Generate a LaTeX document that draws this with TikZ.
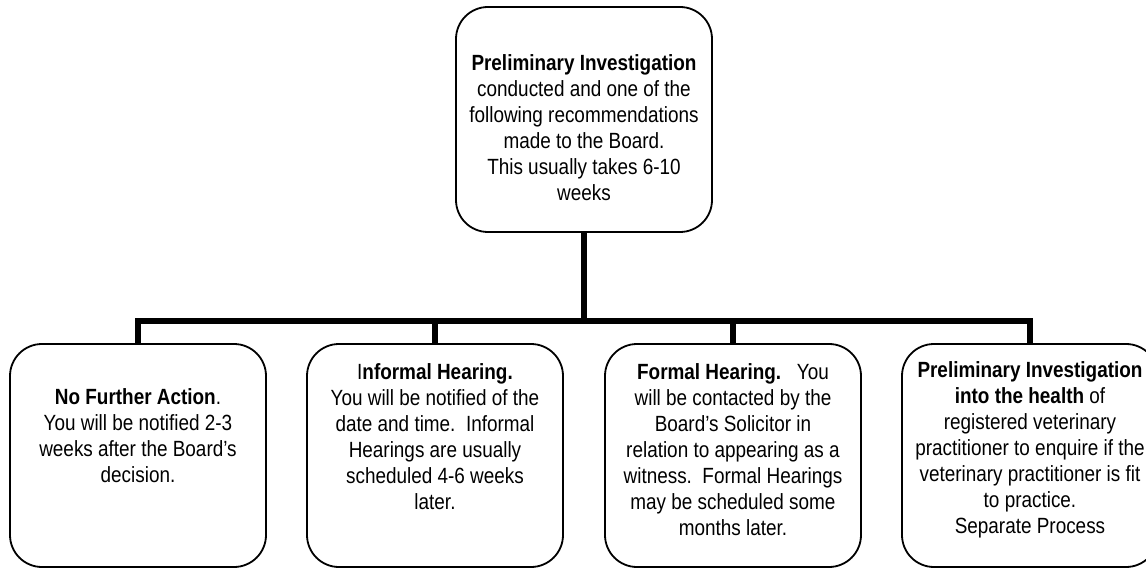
\documentclass[tikz,border=0pt]{standalone}
\usepackage{fontspec}
\setmainfont{Liberation Sans}[FakeStretch=0.86]
\newcommand{\cellcontent}[3]{\parbox[c][#1][t]{256pt}{\vspace*{#2}\centering #3\par}}
\begin{document}
\begin{tikzpicture}[x=1pt,y=-1pt,
  card/.style={draw=black, line width=1.8pt, rounded corners=32pt, inner sep=0pt, fill=white,
    font=\fontsize{22}{26}\selectfont},
  conn/.style={line width=6pt, line cap=butt, line join=miter}]
\useasboundingbox (0,0) rectangle (1146,569);
\clip (0,0) rectangle (1146,569);
\node[card] (top) at (584,119.5) {\cellcontent{225pt}{48pt}{\textbf{Preliminary Investigation}\\ conducted and one of the\\ following recommendations\\ made to the Board.\\ This usually takes 6-10\\ weeks}};
\node[card] (b1) at (138,455.5) {\cellcontent{223pt}{45pt}{\textbf{No Further Action}.\\ You will be notified 2-3\\ weeks after the Board’s\\ decision.}};
\node[card] (b2) at (435,455.5) {\cellcontent{223pt}{20pt}{I\textbf{nformal Hearing.}\\ You will be notified of the\\ date and time.\ \ Informal\\ Hearings are usually\\ scheduled 4-6 weeks\\ later.}};
\node[card] (b3) at (733,455.5) {\cellcontent{223pt}{20pt}{\textbf{Formal Hearing.}\ \ \ You\\ will be contacted by the\\ Board’s Solicitor in\\ relation to appearing as a\\ witness.\ \ Formal Hearings\\ may be scheduled some\\ months later.}};
\node[card] (b4) at (1030,455.5) {\cellcontent{223pt}{18pt}{\textbf{Preliminary Investigation}\\ \textbf{into the health} of\\ registered veterinary\\ practitioner to enquire if the\\ veterinary practitioner is fit\\ to practice.\\ Separate Process}};
\coordinate (busL) at (138,321);
\coordinate (busR) at (1030,321);
\draw[conn] (b1.north) -- (busL) -- (busR) -- (b4.north);
\draw[conn] (top.south) -- (top.south |- busL);
\draw[conn] (b2.north) -- (b2.north |- busL);
\draw[conn] (b3.north) -- (b3.north |- busL);
\end{tikzpicture}
\end{document}
